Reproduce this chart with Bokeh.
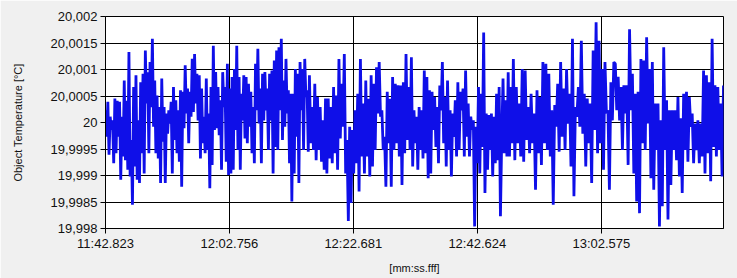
import numpy as np
from bokeh.plotting import figure
from bokeh.models import FixedTicker, Range1d
from bokeh.embed import file_html
from bokeh.resources import INLINE

# ---- data (deviation from 20 °C in units of 1e-4 °C) ----
seg1 = [2.3, -2.7, 3.9, -6.1, 1.1, -1.4, 0.4, -7.7, 4.5, -5.8, 4.1, -2.7, 3.9, -10.8, 1.1, -6.4,
        7.9, -7.1, 4.1, -8.9, 13.3, -10.2, -3.3, -15.5, 6.7, -8.3, 8.9, -10.8, 0.4, -11.4, 7.6, -5.8,
        9.2, -9.6, 13.6, 3.6, 9.5, -5.8, 11.4, 2.9, 15.8, -0.8, 7.9, -5.8, 5.1, -6.8, 2.9, -11.4,
        8.3, -3.6, 2.9, -11.4, 1.7, -2.1, 2.3, -0.2, 3.9, -9.6, 6.7, -3.3, 4.2, -5.8, 2.3, -7.4,
        6.1, -12.1, 5.8, -1.1, 10.8, 1.7, 6.4, -3.9, 5.8, 1.1, 12.0, 2.0, 12.9, 3.6, 9.2, 0.4,
        8.9, -6.8, 6.4, -3.9, 1.1, -5.8, 8.3]
seg2 = [-5.2, 1.7, -12.4, 6.7, -8.0, 14.5, -1.4, 9.5, -1.1, 6.7, -2.4, 4.2, -8.9, 9.5, 2.9, 6.7,
        -7.4, 11.1, -9.9, 6.4, -9.6, 8.6, -8.9, 10.1, -1.4, 14.5, -5.2, 8.6, -8.9, 5.4, 0.4, 8.9,
        -3.0, 8.6, -3.9, 7.3, -0.8, 5.8, -5.8, 2.9, -7.7, 11.1, 2.3, 13.9, -0.2, 6.4, -7.7, 9.2,
        0.4, 9.5, 2.3, 6.4, -5.2, 9.2, 0.4, 9.8, -9.6, 11.7, -4.6, 13.6, -5.2, 14.2, 2.3, 15.8,
        -3.3, 7.9, -0.8, 12.0, 1.7, 6.1, -7.7, 5.4, -14.9, 5.4, -9.6, 10.1, -2.7, 9.2, -11.4, 11.4,
        2.3, 10.1, -5.2, 12.0, 4.8, 6.1, -5.5]
seg3 = [8.9, -3.9, 2.9, -5.2, 7.3, -7.1, 4.8, -5.2, 2.9, -7.4, 0.4, -8.9, 4.5, -9.6, 4.5, -6.8,
        2.9, -7.7, 6.7, -5.8, 5.1, -8.9, 12.0, -3.0, 7.3, -0.8, 12.9, -9.6, -3.3, -18.6, -0.8, -15.2,
        -1.4, -9.6, 2.3, -7.7, 5.4, -13.0, 12.0, -6.4, 3.6, -9.6, 7.9, -6.4, 4.5, -10.2, 8.9, -8.3,
        7.3, -5.2, 10.4, 1.7, 11.4, 1.1, 2.3, -5.2, -2.7, -12.1, 5.8, -3.9, 4.5, -12.1, 8.6, -5.2,
        7.3, -3.9, 7.0, -6.4, 7.0, -11.8, 7.6, -5.8, 12.9, -3.3, 6.7, -5.2]
seg4 = [12.3, -8.3, 2.3, -3.9, 1.1, -8.9, 2.9, -5.2, 2.3, -6.8, 9.8, -5.8, 8.6, -10.5, 6.1, -9.6,
        5.8, -1.4, 4.8, -4.6, 2.9, -7.7, 7.0, 2.3, 11.4, -3.9, 4.8, -8.3, 7.9, -5.2, 2.3, -10.2,
        1.7, -2.7, 4.2, -6.4, 7.6, -5.2, 5.8, 2.3, 6.4, -6.4, 9.8, -2.7, 3.6, -6.4, 1.1, -1.4,
        0.4, -19.6, -0.8, -7.7, 6.7, -9.6, 5.4, -4.6, 17.0, -13.3, 1.7, -8.9, 1.4, -5.2, 1.7, -10.2,
        1.1, -7.7, 5.4, -7.1, 6.7, -17.7, -2.7, 8.3, -5.8, 4.2, -6.4, 9.5, -6.4, 6.7, -3.9]
seg5 = [12.0, -7.1, 6.7, -3.9, 3.6, -6.4, 10.1, -7.4, 9.8, -3.3, 2.9, -5.8, 5.4, -3.9, 1.7, -12.7,
        6.1, -5.8, 4.8, -8.0, 11.4, -3.9, 11.1, -5.2, 9.2, -6.4, 2.3, -15.5, 3.3, -0.8, 7.3, -5.5,
        11.4, -2.7, 6.4, -5.2, 10.1, -0.2, 5.4, -8.3, 15.8, -13.9, 2.9, 1.1, 6.7, -0.8, 15.4, -2.1,
        5.4, -8.3, 4.5, -3.9, 3.6, -11.4, 13.6, -1.4, 18.9, -5.8, 15.4, -3.9, 10.1, -8.9, 11.4, 1.7,
        2.3, -12.7, 7.6, 0.4, 11.4]
seg6 = [11.1, 2.3, 8.6, 0.4, 6.7, -5.2, 7.0, 1.7, 7.0, -8.0, 17.6, 2.3, 9.2, -9.6, 5.4, -14.9,
        5.8, -17.1, 12.0, -3.9, 11.7, -5.2, 16.1, -0.2, 10.1, -10.5, 11.4, -12.7, 3.6, -5.2, 3.6, -19.6,
        0.4, -15.8, 14.2, -5.2, 4.2, -18.3, 2.3, -11.8, 2.3, -5.2, 2.3, -7.1, 4.8, -10.2, 0.8, -13.3,
        5.4, -5.2, 5.8, -7.4, 4.8, -0.8, 1.7, -7.7, -0.2, -5.2, 0.4, -7.7, -0.2, -6.4, 9.8, -9.6,
        8.9, -5.8, 7.6, -11.1, 15.8, -4.6, 7.0, -6.4, 6.7, -5.2, 3.6, -10.2, 7.0]
segments = [seg1, seg2, seg3, seg4, seg5, seg6]
# sample-time offsets (s) where each read segment starts / the record ends
segment_edges_s = [0.0, 16.4, 32.8, 49.2, 65.6, 82.0, 99.4]

base_temp = 20.0
start_label = "11:42.823"
x_tick_labels = ["11:42.823", "12:02.756", "12:22.681", "12:42.624", "13:02.575"]
y_ticks = [19.998, 19.9985, 19.999, 19.9995, 20.0, 20.0005, 20.001, 20.0015, 20.002]
y_tick_labels = ["19,998", "19,9985", "19,999", "19,9995", "20", "20,0005", "20,001", "20,0015", "20,002"]


def to_seconds(lbl):
    m, s = lbl.split(":")
    return int(m) * 60 + float(s)


t0 = to_seconds(start_label)
xs, ys = [], []
for i, seg in enumerate(segments):
    a, b = segment_edges_s[i], segment_edges_s[i + 1]
    last = i == len(segments) - 1
    tt = np.linspace(a, b, len(seg), endpoint=last)
    xs.extend((t0 + tt).tolist())
    ys.extend([base_temp + d * 1e-4 for d in seg])

x_ticks = [to_seconds(l) for l in x_tick_labels]

FONT = "Liberation Sans"

p = figure(width=737, height=278, output_backend="svg", toolbar_location=None,
           x_range=Range1d(t0, t0 + segment_edges_s[-1]), y_range=Range1d(y_ticks[0], y_ticks[-1]),
           min_border_left=105, min_border_right=14, min_border_top=16, min_border_bottom=50)
p.border_fill_color = "#F0F0F0"
p.background_fill_color = "white"
p.outline_line_color = "black"
p.outline_line_width = 1

p.line(xs, ys, line_color="#0F0FE8", line_width=2.8)

for ax in (p.xaxis[0], p.yaxis[0]):
    ax.axis_line_color = "black"
    ax.major_tick_line_color = "black"
    ax.major_tick_out = 5
    ax.major_tick_in = 0
    ax.minor_tick_line_color = None
    ax.major_label_text_font = FONT
    ax.major_label_text_font_size = "13px"
    ax.major_label_text_color = "#111111"
    ax.axis_label_text_font = FONT
    ax.axis_label_text_font_size = "11px"
    ax.axis_label_text_font_style = "normal"
    ax.axis_label_text_color = "#111111"

p.xaxis.ticker = FixedTicker(ticks=x_ticks)
p.xaxis.major_label_overrides = {t: l for t, l in zip(x_ticks, x_tick_labels)}
p.xaxis.axis_label = "[mm:ss.fff]"
p.xaxis.major_label_standoff = 2
p.xaxis.axis_label_standoff = 8

p.yaxis.ticker = FixedTicker(ticks=y_ticks)
p.yaxis.major_label_overrides = {t: l for t, l in zip(y_ticks, y_tick_labels)}
p.yaxis.axis_label = "Object Temperature [°C]"
p.yaxis.major_label_standoff = 3
p.yaxis.axis_label_standoff = 24

for g in (p.xgrid[0], p.ygrid[0]):
    g.grid_line_color = "black"
    g.grid_line_alpha = 1.0
    g.grid_line_width = 1
p.xgrid.ticker = p.xaxis.ticker
p.ygrid.ticker = p.yaxis.ticker

open("out.html", "w").write(file_html(p, INLINE))
